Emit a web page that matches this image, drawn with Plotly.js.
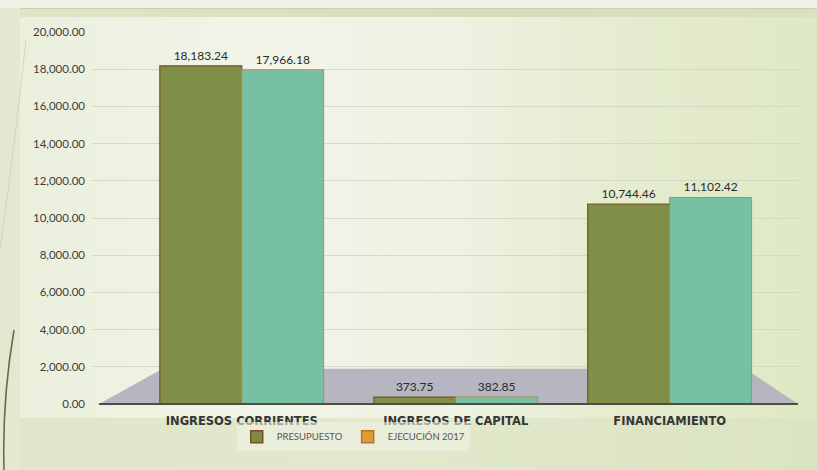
<!DOCTYPE html>
<html>
<head>
<meta charset="utf-8">
<script src="https://cdn.plot.ly/plotly-3.0.1.min.js"></script>
<style>
  html, body { margin: 0; padding: 0; width: 817px; height: 470px; overflow: hidden; background: #e2e9cc; }
  #topstrip { position: absolute; left: 0; top: 0; width: 817px; height: 8px; background: #eef1e5; }
  #topband { position: absolute; left: 10px; top: 8px; width: 807px; height: 9px; background: linear-gradient(to right, #dfe6c8, #d5ddb9 60%, #d9e1bf); border-top: 1px solid #c9d1ad; }
  #leftstrip { position: absolute; left: 0; top: 8px; width: 20px; height: 462px; background: #e3e9d0; border-right: 1px solid #d8dfc2; }
  #panel { position: absolute; left: 20px; top: 17px; width: 797px; height: 401px;
           background: linear-gradient(to right, #ebf0dd 0%, #f1f4e8 30%, #eef2e2 55%, #e5ecd0 75%, #dfe8c4 100%); }
  #bottomband { position: absolute; left: 20px; top: 418px; width: 797px; height: 52px; background: linear-gradient(to right, #dfe6c9, #e1e8cb 50%, #dbe4c2); }
  #deco { position: absolute; left: 0; top: 0; }
  #chart { position: absolute; left: 0; top: 0; width: 817px; height: 470px; }
</style>
</head>
<body>
<div id="topstrip"></div>
<div id="topband"></div>
<div id="leftstrip"></div>
<div id="panel"></div>
<div id="bottomband"></div>
<svg id="deco" width="817" height="470">
  <path d="M 14 330 Q 2 400 4 470" stroke="#6d6a48" stroke-width="1.6" fill="none"/>
  <path d="M 0 250 Q 14 150 26 40" stroke="#c9cfc0" stroke-width="0.8" fill="none"/>
</svg>
<div id="chart"></div>
<script>
const categories = ["INGRESOS CORRIENTES", "INGRESOS DE CAPITAL", "FINANCIAMIENTO"];
const presupuesto = [18183.24, 373.75, 10744.46];
const ejecucion2017 = [17966.18, 382.85, 11102.42];
const seriesNames = ["PRESUPUESTO", "EJECUCIÓN 2017"];

const labelFont = { family: "Lato, 'Open Sans', sans-serif", size: 12, color: "#2a2a2a" };

const traces = [
  {
    type: "bar", x: categories, y: presupuesto, name: seriesNames[0], showlegend: false,
    offsetgroup: "p",
    marker: { color: "#808f47", line: { color: "#7a5528", width: 1.2 } },
    texttemplate: "%{y:,.2f}", textposition: "outside", textfont: labelFont, cliponaxis: false,
    hoverinfo: "skip"
  },
  {
    type: "bar", x: categories, y: ejecucion2017, name: seriesNames[1], showlegend: false,
    offsetgroup: "e",
    marker: { color: "#78c0a3", line: { color: "#b98a52", width: 1 } },
    texttemplate: "%{y:,.2f}", textposition: "outside", textfont: labelFont, cliponaxis: false,
    hoverinfo: "skip"
  },
  // legend entries (same series, legend swatches as in the reference)
  { type: "bar", x: [null], y: [null], name: seriesNames[0], showlegend: true, offsetgroup: "p",
    marker: { color: "#7d8b44", line: { color: "#7a4f22", width: 1.5 } } },
  { type: "bar", x: [null], y: [null], name: seriesNames[1], showlegend: true, offsetgroup: "e",
    marker: { color: "#e39a36", line: { color: "#b77426", width: 1.5 } } }
];

const layout = {
  width: 817, height: 470,
  margin: { l: 92, r: 19, t: 32, b: 66 },
  paper_bgcolor: "rgba(0,0,0,0)",
  plot_bgcolor: "rgba(0,0,0,0)",
  barmode: "group",
  bargap: 0.234,
  bargroupgap: 0,
  font: { family: "Lato, 'Open Sans', sans-serif", color: "#3a3a3a" },
  xaxis: {
    type: "category",
    range: [-0.7, 2.6],
    showgrid: false, zeroline: false, showline: false, ticks: "",
    ticklabelstandoff: 8,
    tickfont: { family: "'DejaVu Sans', sans-serif", size: 11.5, color: "#353535", weight: "bold" }
  },
  yaxis: {
    range: [0, 20000], dtick: 2000, tickformat: ",.2f",
    showgrid: true, gridcolor: "rgba(205,210,195,0.75)", gridwidth: 1,
    zeroline: false, showline: false, ticks: "",
    ticklabelstandoff: 6,
    tickfont: { family: "Lato, sans-serif", size: 11.5, color: "#3c3c3c" }
  },
  legend: {
    orientation: "h", x: 0.37, xanchor: "center", y: -0.088, yanchor: "middle",
    bgcolor: "rgba(238,242,228,0.6)",
    font: { family: "Lato, sans-serif", size: 9.5, color: "#555555" },
    itemwidth: 30, traceorder: "normal"
  },
  shapes: [
    { type: "path", xref: "paper", yref: "paper", layer: "below",
      path: "M 0.01 0 L 1.0 0 L 0.925 0.095 L 0.1 0.095 Z",
      fillcolor: "#b5b6bf", line: { width: 0 } },
    { type: "line", xref: "paper", yref: "paper", layer: "above",
      x0: 0.01, x1: 1.0, y0: 0, y1: 0, line: { color: "#4d4d44", width: 2 } }
  ]
};

Plotly.newPlot("chart", traces, layout, { staticPlot: true, displayModeBar: false });
</script>
</body>
</html>
